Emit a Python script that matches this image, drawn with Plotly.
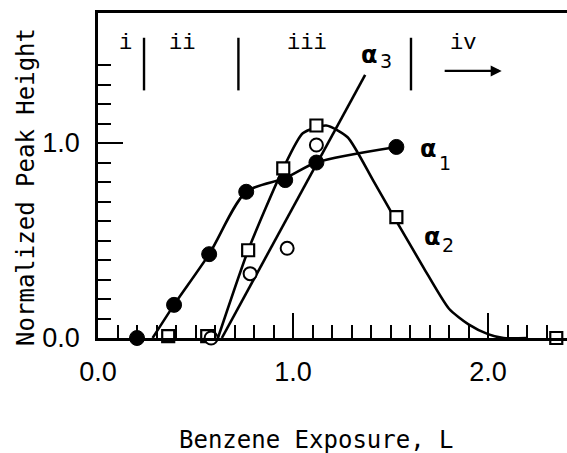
import plotly.graph_objects as go

# Measured points (benzene exposure in L, normalized peak height)
a1_x = [0.20, 0.39, 0.57, 0.76, 0.96, 1.12, 1.53]
a1_y = [0.00, 0.17, 0.43, 0.75, 0.81, 0.90, 0.98]

a2_x = [0.36, 0.56, 0.77, 0.95, 1.12, 1.53, 2.35]
a2_y = [0.01, 0.01, 0.45, 0.87, 1.09, 0.62, 0.00]

a3_x = [0.38, 0.58, 0.78, 0.97, 1.12]
a3_y = [-0.01, 0.00, 0.33, 0.46, 0.99]

# Hand-drawn guide curves through the data
a1_curve_x = [0.28, 0.39, 0.57, 0.76, 0.96, 1.12, 1.53]
a1_curve_y = [0.00, 0.17, 0.43, 0.75, 0.82, 0.90, 0.98]

a2_curve_x = [0.615, 0.77, 0.95, 1.05, 1.17, 1.28, 1.41, 1.53, 1.67, 1.80, 1.90, 2.00, 2.08, 2.20]
a2_curve_y = [0.00, 0.45, 0.87, 1.05, 1.09, 1.03, 0.81, 0.60, 0.36, 0.15, 0.07, 0.02, 0.0, 0.0]

a3_line_x = [0.635, 1.37]
a3_line_y = [0.00, 1.35]

# Exposure regimes
region_bounds = [0.236, 0.72, 1.605]
region_names = ["i", "ii", "iii", "iv"]
region_label_x = [0.14, 0.43, 1.07, 1.87]

# Curve labels: (x, y) of the alpha and of its index
curve_names = ["3", "1", "2"]
curve_alpha_xy = [(1.39, 1.45), (1.695, 0.97), (1.715, 0.52)]
curve_index_xy = [(1.475, 1.42), (1.78, 0.90), (1.795, 0.475)]

x_major = [0, 1, 2]
x_major_text = ["0.0", "1.0", "2.0"]
y_major = [0, 1]
y_major_text = ["0.0", "1.0"]
x_minor = [round(0.1 * i, 1) for i in range(1, 24) if i not in (10, 20)]
y_minor = [round(0.1 * i, 1) for i in range(1, 15) if i != 10]

BLACK = "black"
LW = 2.6

fig = go.Figure()

fig.add_trace(go.Scatter(x=a1_curve_x, y=a1_curve_y, mode="lines",
                         line=dict(color=BLACK, width=LW, shape="spline", smoothing=0.8),
                         hoverinfo="skip", showlegend=False))
fig.add_trace(go.Scatter(x=a2_curve_x, y=a2_curve_y, mode="lines",
                         line=dict(color=BLACK, width=LW, shape="spline", smoothing=0.6),
                         hoverinfo="skip", showlegend=False))
fig.add_trace(go.Scatter(x=a3_line_x, y=a3_line_y, mode="lines",
                         line=dict(color=BLACK, width=LW),
                         hoverinfo="skip", showlegend=False))

fig.add_trace(go.Scatter(x=a1_x, y=a1_y, mode="markers", name="α1", cliponaxis=False,
                         marker=dict(symbol="circle", size=15, color=BLACK,
                                     line=dict(color=BLACK, width=1))))
fig.add_trace(go.Scatter(x=a2_x, y=a2_y, mode="markers", name="α2", cliponaxis=False,
                         marker=dict(symbol="square", size=12, color="white",
                                     line=dict(color=BLACK, width=2.2))))
fig.add_trace(go.Scatter(x=a3_x, y=a3_y, mode="markers", name="α3", cliponaxis=False,
                         marker=dict(symbol="circle", size=13, color="white",
                                     line=dict(color=BLACK, width=2))))

shapes = []
for xb in region_bounds:
    shapes.append(dict(type="line", xref="x", yref="y", x0=xb, x1=xb, y0=1.27, y1=1.54,
                       line=dict(color=BLACK, width=2.4)))

annotations = []
for name, xl in zip(region_names, region_label_x):
    annotations.append(dict(x=xl, y=1.51, xref="x", yref="y", text=name, showarrow=False,
                            font=dict(family="Liberation Mono", size=22, color=BLACK)))

# Arrow pointing to higher exposure
annotations.append(dict(x=2.07, y=1.37, ax=1.77, ay=1.37, xref="x", yref="y",
                        axref="x", ayref="y", text="", showarrow=True,
                        arrowhead=2, arrowsize=1, arrowwidth=2.2, arrowcolor=BLACK))

alpha_font = dict(family="DejaVu Sans", size=24, color=BLACK, weight="bold")
index_font = dict(family="DejaVu Sans", size=19, color=BLACK)
for idx, (ax_, ay_), (ix, iy) in zip(curve_names, curve_alpha_xy, curve_index_xy):
    annotations.append(dict(x=ax_, y=ay_, xref="x", yref="y", text="α",
                            showarrow=False, font=alpha_font))
    annotations.append(dict(x=ix, y=iy, xref="x", yref="y", text=idx,
                            showarrow=False, font=index_font))

title_font = dict(family="DejaVu Sans Mono", size=24, color=BLACK)
annotations += [
    dict(x=1.12, y=-0.314, xref="x", yref="paper", text="Benzene Exposure, L",
         showarrow=False, font=title_font, yanchor="middle"),
    dict(x=-0.1535, y=0.465, xref="paper", yref="paper", text="Normalized Peak Height",
         showarrow=False, font=title_font, textangle=-90, xanchor="center", yanchor="middle"),
]

tick_font = dict(family="Liberation Sans", size=27, color=BLACK)

fig.update_layout(
    width=567, height=453,
    margin=dict(l=98, r=0, t=13, b=115),
    paper_bgcolor="white", plot_bgcolor="white",
    showlegend=False,
    shapes=shapes, annotations=annotations,
    xaxis=dict(range=[0, 2.405], showgrid=False, zeroline=False,
               showline=True, linecolor=BLACK, linewidth=LW, mirror=True,
               tickvals=x_major, ticktext=x_major_text, ticks="inside",
               ticklen=25, tickwidth=2.2, tickcolor=BLACK, tickfont=tick_font,
               ticklabelstandoff=8,
               minor=dict(tickvals=x_minor, ticks="inside", ticklen=13,
                          tickwidth=2.2, tickcolor=BLACK, showgrid=False)),
    yaxis=dict(range=[0, 1.667], showgrid=False, zeroline=False,
               showline=True, linecolor=BLACK, linewidth=LW,
               tickvals=y_major, ticktext=y_major_text, ticks="inside",
               ticklen=25, tickwidth=2.2, tickcolor=BLACK, tickfont=tick_font,
               ticklabelstandoff=10,
               minor=dict(tickvals=y_minor, ticks="inside", ticklen=13,
                          tickwidth=2.2, tickcolor=BLACK, showgrid=False)),
)

fig.write_html("out.html")
